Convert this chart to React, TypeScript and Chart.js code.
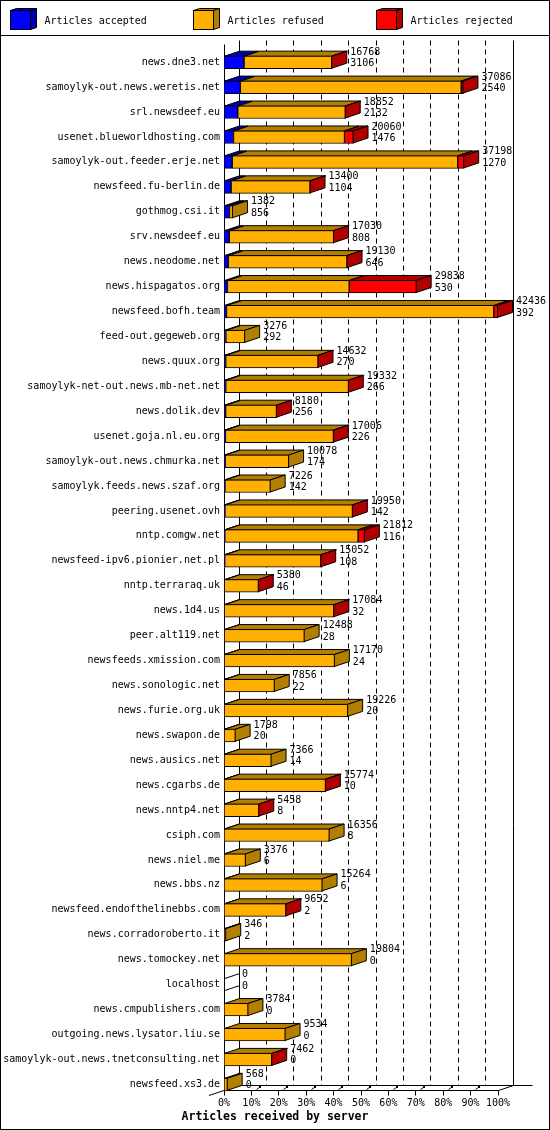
import React, { useEffect, useRef } from "react";
import { Chart, registerables } from "chart.js";
Chart.register(...registerables);

const categories = [
  "news.dne3.net",
  "samoylyk-out.news.weretis.net",
  "srl.newsdeef.eu",
  "usenet.blueworldhosting.com",
  "samoylyk-out.feeder.erje.net",
  "newsfeed.fu-berlin.de",
  "gothmog.csi.it",
  "srv.newsdeef.eu",
  "news.neodome.net",
  "news.hispagatos.org",
  "newsfeed.bofh.team",
  "feed-out.gegeweb.org",
  "news.quux.org",
  "samoylyk-net-out.news.mb-net.net",
  "news.dolik.dev",
  "usenet.goja.nl.eu.org",
  "samoylyk-out.news.chmurka.net",
  "samoylyk.feeds.news.szaf.org",
  "peering.usenet.ovh",
  "nntp.comgw.net",
  "newsfeed-ipv6.pionier.net.pl",
  "nntp.terraraq.uk",
  "news.1d4.us",
  "peer.alt119.net",
  "newsfeeds.xmission.com",
  "news.sonologic.net",
  "news.furie.org.uk",
  "news.swapon.de",
  "news.ausics.net",
  "news.cgarbs.de",
  "news.nntp4.net",
  "csiph.com",
  "news.niel.me",
  "news.bbs.nz",
  "newsfeed.endofthelinebbs.com",
  "news.corradoroberto.it",
  "news.tomockey.net",
  "localhost",
  "news.cmpublishers.com",
  "outgoing.news.lysator.liu.se",
  "samoylyk-out.news.tnetconsulting.net",
  "newsfeed.xs3.de",
];

const accepted = [
  3106, 2540, 2132, 1476, 1270, 1104, 856, 808, 646, 530, 392, 292, 270, 266,
  256, 226, 174, 142, 142, 116, 108, 46, 32, 28, 24, 22, 20, 20, 14, 10, 8, 8,
  6, 6, 2, 2, 0, 0, 0, 0, 0, 0,
];

const refused = [
  13602, 34196, 16680, 17184, 34928, 12256, 526, 16182, 18424, 18858, 41394,
  2984, 14332, 19036, 7894, 16750, 9904, 7084, 19778, 20646, 14914, 5314,
  17022, 12460, 17146, 7834, 19206, 1778, 7352, 15744, 5430, 16348, 3370,
  15258, 9630, 344, 19804, 0, 3784, 9534, 7442, 568,
];

const rejected = [
  60, 350, 40, 1400, 1000, 40, 0, 40, 60, 10450, 650, 0, 30, 30, 30, 30, 0, 0,
  30, 1050, 30, 20, 30, 0, 0, 0, 0, 0, 0, 20, 20, 0, 0, 0, 20, 0, 0, 0, 0, 0,
  20, 0,
];

const seriesLabels = ["Articles accepted", "Articles refused", "Articles rejected"];
const frontColors = ["#0000ff", "#ffb000", "#ff0000"];
const darkColors = ["#0000b0", "#b47f00", "#b00000"];
const percentTicks = [0, 10, 20, 30, 40, 50, 60, 70, 80, 90, 100];
const axisTitle = "Articles received by server";

const FONT = "'DejaVu Sans Mono', 'Liberation Mono', monospace";
const DX = 15;
const DY = 5;

export default function App() {
  const ref = useRef<HTMLCanvasElement>(null);

  useEffect(() => {
    document.body.style.margin = "0";
    const canvas = ref.current;
    if (!canvas) return;
    const series = [accepted, refused, rejected];
    const totals = categories.map((_, i) => accepted[i] + refused[i] + rejected[i]);
    const maxTotal = Math.max(...totals);
    const crisp = (v: number) => Math.floor(v) + 0.5;

    const line = (ctx: CanvasRenderingContext2D, x1: number, y1: number, x2: number, y2: number) => {
      ctx.beginPath();
      ctx.moveTo(x1, y1);
      ctx.lineTo(x2, y2);
      ctx.stroke();
    };

    const poly = (ctx: CanvasRenderingContext2D, pts: number[][], fill: string | null) => {
      ctx.beginPath();
      ctx.moveTo(pts[0][0], pts[0][1]);
      for (let i = 1; i < pts.length; i++) ctx.lineTo(pts[i][0], pts[i][1]);
      ctx.closePath();
      if (fill) {
        ctx.fillStyle = fill;
        ctx.fill();
      }
      ctx.stroke();
    };

    const plugin = {
      id: "gd3d",
      beforeDraw(chart: any) {
        const ctx = chart.ctx;
        ctx.save();
        ctx.fillStyle = "#ffffff";
        ctx.fillRect(0, 0, chart.width, chart.height);
        ctx.restore();
      },
      beforeDatasetsDraw(chart: any) {
        const ctx: CanvasRenderingContext2D = chart.ctx;
        const { left, right, bottom } = chart.chartArea;
        const xs = chart.scales.x;
        const floorY = Math.round(bottom - 7) + 0.5;
        const backY = floorY - DY;
        const topBack = 40.5;
        ctx.save();
        ctx.strokeStyle = "#000";
        ctx.lineWidth = 1;
        // dashed back grid
        ctx.setLineDash([5, 4]);
        for (const v of percentTicks) {
          if (v === 0 || v === 100) continue;
          const x = crisp(xs.getPixelForValue(v) + DX);
          line(ctx, x, topBack, x, backY);
        }
        ctx.setLineDash([]);
        // back walls
        line(ctx, crisp(left + DX), topBack, crisp(left + DX), backY);
        line(ctx, crisp(right + DX), topBack, crisp(right + DX), backY);
        line(ctx, crisp(left + DX), backY, crisp(right + DX + 19), backY);
        // left floor diagonal
        line(ctx, left - 15, floorY + 5, left + DX, backY);
        // front axes
        line(ctx, crisp(left), 44.5, crisp(left), floorY);
        line(ctx, crisp(left), floorY, crisp(right), floorY);
        line(ctx, crisp(right), floorY, crisp(right + DX), backY);
        // ticks
        for (const v of percentTicks) {
          const x = crisp(xs.getPixelForValue(v));
          line(ctx, x, floorY, x, floorY + 5);
          if (v !== 0 && v !== 100) {
            line(ctx, x + 5, floorY - 1, x + 8, floorY - 3);
            ctx.fillStyle = "#000";
            ctx.fillRect(x + 7.5, floorY - 4.5, 2, 2);
          }
        }
        ctx.restore();
      },
      afterDatasetsDraw(chart: any) {
        const ctx: CanvasRenderingContext2D = chart.ctx;
        const { left } = chart.chartArea;
        ctx.save();
        ctx.strokeStyle = "#000";
        ctx.lineWidth = 1;
        for (let i = 0; i < categories.length; i++) {
          let lastIdx = -1;
          let yTop = 0;
          let yBot = 0;
          let endX = left;
          for (let d = 0; d < series.length; d++) {
            const el = chart.getDatasetMeta(d).data[i];
            const p = el.getProps(["x", "base", "y", "height"], true);
            yTop = p.y - p.height / 2;
            yBot = p.y + p.height / 2;
            if (series[d][i] <= 0) continue;
            const x0 = Math.min(p.x, p.base);
            const x1 = Math.max(p.x, p.base);
            const t = yTop + 0.5;
            const a = x0 + 0.5;
            const b = Math.max(a, x1 - 0.5);
            poly(ctx, [[a, t], [a + DX, t - DY], [b + DX, t - DY], [b, t]], darkColors[d]);
            lastIdx = d;
            endX = x1;
          }
          const t = yTop + 0.5;
          const bt = yBot - 0.5;
          const e = lastIdx >= 0 ? endX - 0.5 : left + 0.5;
          const fill = lastIdx >= 0 ? darkColors[lastIdx] : null;
          if (lastIdx >= 0) {
            poly(ctx, [[e, t], [e + DX, t - DY], [e + DX, bt - DY], [e, bt]], fill);
          } else {
            line(ctx, e, t, e + DX, t - DY);
            line(ctx, e, bt, e + DX, bt - DY);
          }
          // value labels
          const cy = (yTop + yBot) / 2;
          ctx.fillStyle = "#000";
          ctx.font = `10px ${FONT}`;
          ctx.textAlign = "left";
          ctx.textBaseline = "middle";
          const lx = (lastIdx >= 0 ? endX : left) + DX + 3;
          ctx.fillText(String(totals[i]), lx, cy - 10);
          ctx.fillText(String(accepted[i]), lx, cy + 1.5);
        }
        ctx.restore();
      },
      afterDraw(chart: any) {
        const ctx: CanvasRenderingContext2D = chart.ctx;
        const W = chart.width;
        const H = chart.height;
        ctx.save();
        ctx.strokeStyle = "#000";
        ctx.lineWidth = 1;
        ctx.strokeRect(0.5, 0.5, W - 1, H - 1);
        line(ctx, 0, 35.5, W, 35.5);
        // legend
        for (let k = 0; k < seriesLabels.length; k++) {
          const bx = 10.5 + k * 183;
          const by = 10.5;
          const bw = 20;
          const bh = 19;
          poly(ctx, [[bx, by], [bx + 6, by - 2], [bx + bw + 6, by - 2], [bx + bw, by]], darkColors[k]);
          poly(ctx, [[bx + bw, by], [bx + bw + 6, by - 2], [bx + bw + 6, by + bh - 2], [bx + bw, by + bh]], darkColors[k]);
          ctx.fillStyle = frontColors[k];
          ctx.fillRect(bx, by, bw, bh);
          ctx.strokeRect(bx, by, bw, bh);
          ctx.fillStyle = "#000";
          ctx.font = `10px ${FONT}`;
          ctx.textAlign = "left";
          ctx.textBaseline = "middle";
          ctx.fillText(seriesLabels[k], bx + 34, 21);
        }
        // axis title
        ctx.fillStyle = "#000";
        ctx.font = `bold 11.5px ${FONT}`;
        ctx.textAlign = "center";
        ctx.textBaseline = "middle";
        ctx.fillText(axisTitle, W / 2, 1117);
        ctx.restore();
      },
    };

    const chart = new Chart(canvas, {
      type: "bar",
      data: {
        labels: categories,
        datasets: series.map((s, d) => ({
          label: seriesLabels[d],
          data: s.map((v) => (v / maxTotal) * 100),
          backgroundColor: frontColors[d],
          borderColor: "#000000",
          borderWidth: 1,
          borderSkipped: false,
          barThickness: 13,
          stack: "s",
        })),
      },
      options: {
        indexAxis: "y",
        animation: false,
        responsive: false,
        events: [],
        layout: { padding: { top: 49.7, right: 52, bottom: 0, left: 0 } },
        plugins: {
          legend: { display: false },
          title: { display: false },
          tooltip: { enabled: false },
        },
        scales: {
          x: {
            type: "linear",
            stacked: true,
            min: 0,
            max: 100,
            afterFit: (scale: any) => {
              scale.height = 33.2;
            },
            afterBuildTicks: (scale: any) => {
              scale.ticks = percentTicks.map((v) => ({ value: v }));
            },
            grid: { display: false, drawTicks: false },
            border: { display: false },
            ticks: {
              autoSkip: false,
              maxRotation: 0,
              padding: 1,
              color: "#000",
              font: { family: FONT, size: 10 },
              callback: (v: any) => `${v}%`,
            },
          },
          y: {
            type: "category",
            stacked: true,
            afterFit: (scale: any) => {
              scale.width = 224;
            },
            grid: { display: false, drawTicks: false },
            border: { display: false },
            ticks: {
              autoSkip: false,
              padding: 4,
              color: "#000",
              font: { family: FONT, size: 10 },
            },
          },
        },
      },
      plugins: [plugin],
    } as any);

    return () => chart.destroy();
  }, []);

  return (
    <canvas
      ref={ref}
      width={550}
      height={1130}
      style={{ display: "block", width: 550, height: 1130 }}
    />
  );
}
